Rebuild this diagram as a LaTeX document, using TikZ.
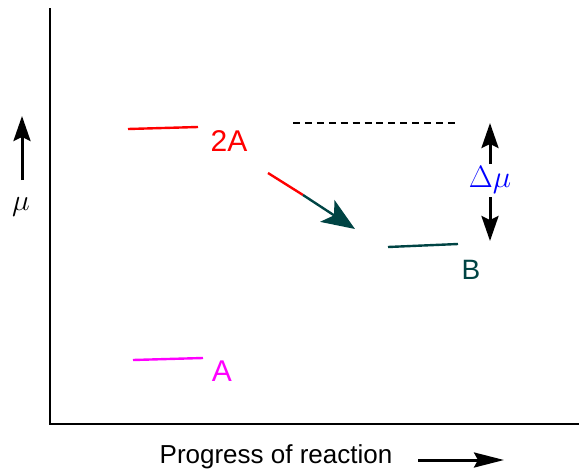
\RequirePackage{fix-cm}
\documentclass[tikz,border=0pt]{standalone}
\usepackage{fontspec}
\setmainfont{Liberation Sans}
\usetikzlibrary{arrows.meta, positioning}
\definecolor{rxnred}{HTML}{FF0000}
\definecolor{rxnteal}{HTML}{004444}
\definecolor{rxnmag}{HTML}{FF00FF}
\definecolor{rxnblue}{HTML}{0000FF}

\begin{document}
\begin{tikzpicture}[x=1pt, y=-1pt,
    axis/.style={line width=2.4pt},
    lvl/.style={line width=2.4pt},
    lbl/.style={font=\fontsize{30}{32}\selectfont, inner sep=0pt},
    tip/.style={-{Stealth[length=25pt, width=17pt, inset=4pt]}, line width=3pt},
]
    \useasboundingbox (0,0) rectangle (579,472);

    % axes
    \coordinate (top) at (50,8);
    \coordinate (org) at (50,424);
    \coordinate (rgt) at (579,424);
    \draw[axis] (top) -- (org) -- (rgt);

    % mu axis arrow
    \coordinate (mutail) at (22,180);
    \coordinate (muhead) at (22,116);
    \draw[tip] (mutail) -- (muhead);
    \node[font=\fontsize{30}{32}\selectfont, inner sep=0pt] (mu) at (21,207) {$\mu$};

    % levels
    \coordinate (r1) at (128,129);
    \coordinate (r2) at (198,127);
    \draw[lvl, rxnred] (r1) -- (r2);
    \node[lbl, text=rxnred] (twoA) at (229,141) {2A};

    \coordinate (b1) at (388,247);
    \coordinate (b2) at (458,244);
    \draw[lvl, rxnteal] (b1) -- (b2);
    \node[lbl, font=\fontsize{28}{30}\selectfont, text=rxnteal] (lblB) at (471,270) {B};

    \coordinate (a1) at (133,360);
    \coordinate (a2) at (203,358);
    \draw[lvl, rxnmag] (a1) -- (a2);
    \node[lbl, text=rxnmag] (lblA) at (222,371) {A};

    % reaction arrow
    \coordinate (s0) at (268,173);
    \coordinate (s1) at (303,195);
    \coordinate (s2) at (355,229);
    \draw[lvl, rxnred] (s0) -- (s1);
    \draw[lvl, rxnteal, -{Stealth[length=33pt, width=26pt, inset=8pt]}] (s1) -- (s2);

    % reference level
    \coordinate (d1) at (293,123);
    \coordinate (d2) at (455,123);
    \draw[line width=2.3pt, dash pattern=on 7pt off 4.92pt] (d1) -- (d2);

    % delta mu
    \node[font=\fontsize{31}{33}\selectfont, text=rxnblue, inner sep=0pt] (dmu) at (490,180) {$\Delta\mu$};
    \coordinate (up1) at (490,164);
    \coordinate (up2) at (490,123);
    \coordinate (dn1) at (490,197);
    \coordinate (dn2) at (490,241);
    \draw[tip] (up1) -- (up2);
    \draw[tip] (dn1) -- (dn2);

    % x label
    \node[font=\fontsize{26}{28}\selectfont, inner sep=0pt] (prog) at (276,457) {Progress of reaction};
    \coordinate (p1) at (418,460);
    \coordinate (p2) at (504,460);
    \draw[-{Stealth[length=30pt, width=15pt, inset=4pt]}, line width=3pt] (p1) -- (p2);
\end{tikzpicture}
\end{document}
